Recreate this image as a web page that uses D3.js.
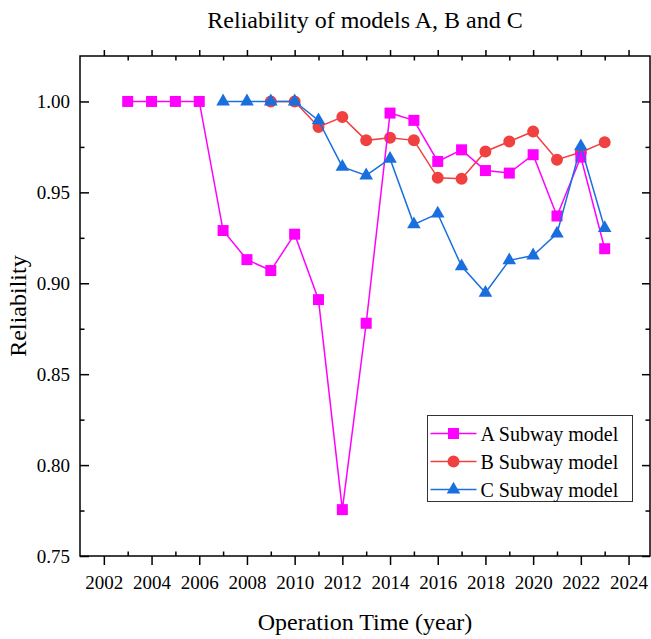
<!DOCTYPE html>
<head>
<meta charset="utf-8">
<style>
    body { margin: 0; background: #fff; }
    svg text { font-family: "Liberation Serif", "Times New Roman", serif; fill: #000; }
</style>
<script src="https://d3js.org/d3.v7.min.js"></script>
</head>

<body>
<script>
// values
var yearsA = [2003, 2004, 2005, 2006, 2007, 2008, 2009, 2010, 2011, 2012, 2013, 2014, 2015, 2016, 2017, 2018, 2019, 2020, 2021, 2022, 2023];
var relA = [1.000, 1.000, 1.000, 1.000, 0.929, 0.913, 0.907, 0.927, 0.891, 0.7755, 0.878, 0.9936, 0.9896, 0.967, 0.9734, 0.962, 0.9606, 0.9707, 0.937, 0.9694, 0.919];

var yearsB = [2009, 2010, 2011, 2012, 2013, 2014, 2015, 2016, 2017, 2018, 2019, 2020, 2021, 2022, 2023];
var relB = [1.000, 1.000, 0.986, 0.9914, 0.9786, 0.980, 0.9786, 0.958, 0.9575, 0.9725, 0.978, 0.9835, 0.968, 0.9721, 0.9776];

var yearsC = [2007, 2008, 2009, 2010, 2011, 2012, 2013, 2014, 2015, 2016, 2017, 2018, 2019, 2020, 2021, 2022, 2023];
var relC = [1.000, 1.000, 1.000, 1.000, 0.9896, 0.964, 0.9593, 0.9685, 0.9324, 0.9383, 0.9093, 0.8948, 0.9126, 0.9153, 0.9273, 0.9753, 0.9303];

var seriesNames = ["A Subway model", "B Subway model", "C Subway model"];
var xMajor = [2002, 2004, 2006, 2008, 2010, 2012, 2014, 2016, 2018, 2020, 2022, 2024];
var xMinor = [2003, 2005, 2007, 2009, 2011, 2013, 2015, 2017, 2019, 2021, 2023];
var yMajor = [0.75, 0.80, 0.85, 0.90, 0.95, 1.00];
var yMinor = [0.775, 0.825, 0.875, 0.925, 0.975];

var colA = "#ff00ff", colB = "#f14040", colC = "#1a6fdf";

var W = 651, H = 639;
var pLeft = 80, pRight = 650, pTop = 56, pBottom = 556;

var svg = d3.select("body").append("svg")
    .attr("width", W)
    .attr("height", H);

var x = d3.scaleLinear().domain([2001, 2024.9]).range([pLeft, pRight]);
var y = d3.scaleLinear().domain([0.75, 1.025]).range([pBottom, pTop]);

// title
svg.append("text")
    .attr("x", (pLeft + pRight) / 2)
    .attr("y", 28)
    .attr("text-anchor", "middle")
    .style("font-size", "24px")
    .text("Reliability of models A, B and C");

// axes: major ticks point out on top/bottom, in on left/right
function noDomain(g) { g.select(".domain").remove(); }
function labelFont(g) {
    g.selectAll("text")
        .style("font-size", "19px")
        .style("font-family", "Liberation Serif")
        .attr("fill", "#000");
}

svg.append("g")
    .attr("transform", "translate(0," + pBottom + ")")
    .call(d3.axisBottom(x).tickValues(xMajor).tickSize(9).tickPadding(11).tickFormat(d3.format("d")))
    .call(noDomain)
    .call(labelFont);

svg.append("g")
    .attr("transform", "translate(0," + pBottom + ")")
    .call(d3.axisBottom(x).tickValues(xMinor).tickSize(-4.5).tickFormat(""))
    .call(noDomain);

svg.append("g")
    .attr("transform", "translate(0," + pTop + ")")
    .call(d3.axisTop(x).tickValues(xMajor).tickSize(6).tickFormat(""))
    .call(noDomain);

svg.append("g")
    .attr("transform", "translate(0," + pTop + ")")
    .call(d3.axisTop(x).tickValues(xMinor).tickSize(-4.5).tickFormat(""))
    .call(noDomain);

svg.append("g")
    .attr("transform", "translate(" + pLeft + ",0)")
    .call(d3.axisLeft(y).tickValues(yMajor).tickSize(-9).tickPadding(10).tickFormat(d3.format(".2f")))
    .call(noDomain)
    .call(labelFont);

svg.append("g")
    .attr("transform", "translate(" + pLeft + ",0)")
    .call(d3.axisLeft(y).tickValues(yMinor).tickSize(-4.5).tickFormat(""))
    .call(noDomain);

svg.append("g")
    .attr("transform", "translate(" + pRight + ",0)")
    .call(d3.axisRight(y).tickValues(yMajor).tickSize(-8).tickFormat(""))
    .call(noDomain);

svg.append("g")
    .attr("transform", "translate(" + pRight + ",0)")
    .call(d3.axisRight(y).tickValues(yMinor).tickSize(-4.5).tickFormat(""))
    .call(noDomain);

svg.selectAll(".tick line").attr("stroke", "#000").attr("stroke-width", 1.5);

// frame
svg.append("rect")
    .attr("x", pLeft)
    .attr("y", pTop)
    .attr("width", pRight - pLeft)
    .attr("height", pBottom - pTop)
    .attr("fill", "none")
    .attr("stroke", "#000")
    .attr("stroke-width", 1.5);

// axis titles
svg.append("text")
    .attr("x", (pLeft + pRight) / 2)
    .attr("y", 630)
    .attr("text-anchor", "middle")
    .style("font-size", "24px")
    .text("Operation Time (year)");

svg.append("text")
    .attr("transform", "translate(26," + ((pTop + pBottom) / 2) + ") rotate(-90)")
    .attr("text-anchor", "middle")
    .style("font-size", "24px")
    .text("Reliability");

// series
var line = d3.line()
    .x(function(d) { return x(d[0]); })
    .y(function(d) { return y(d[1]); });

var sq = d3.symbol().type(d3.symbolSquare).size(121);
var circ = d3.symbol().type(d3.symbolCircle).size(113);
var tri = d3.symbol().type(d3.symbolTriangle).size(80);

function drawSeries(years, vals, col, sym) {
    var pts = d3.zip(years, vals);
    svg.append("path")
        .datum(pts)
        .attr("fill", "none")
        .attr("stroke", col)
        .attr("stroke-width", 1.5)
        .attr("d", line);
    svg.append("g")
        .selectAll("path")
        .data(pts)
        .enter().append("path")
        .attr("transform", function(d) { return "translate(" + x(d[0]) + "," + y(d[1]) + ")"; })
        .attr("fill", col)
        .attr("d", sym);
}

drawSeries(yearsB, relB, colB, circ);
drawSeries(yearsA, relA, colA, sq);
drawSeries(yearsC, relC, colC, tri);

// legend
var lg = svg.append("g").attr("transform", "translate(427.5,415.5)");
lg.append("rect")
    .attr("width", 205)
    .attr("height", 86)
    .attr("fill", "#fff")
    .attr("stroke", "#333")
    .attr("stroke-width", 1);

var legendCols = [colA, colB, colC];
var legendSyms = [sq, circ, tri];
seriesNames.forEach(function(name, i) {
    var ry = 18 + i * 28;
    lg.append("line")
        .attr("x1", 3).attr("x2", 49)
        .attr("y1", ry).attr("y2", ry)
        .attr("stroke", legendCols[i])
        .attr("stroke-width", 1.5);
    lg.append("path")
        .attr("transform", "translate(26," + ry + ")")
        .attr("fill", legendCols[i])
        .attr("d", legendSyms[i]);
    lg.append("text")
        .attr("x", 53)
        .attr("y", ry + 7)
        .style("font-size", "20px")
        .text(name);
});
</script>
</body>
